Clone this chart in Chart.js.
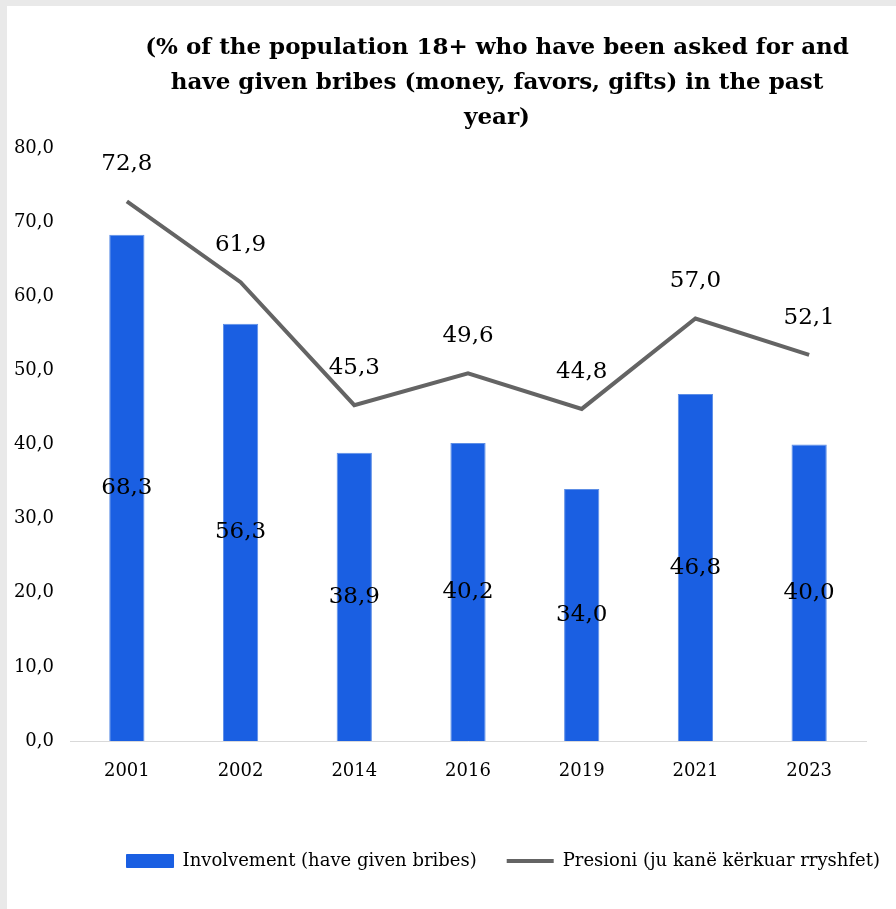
<!DOCTYPE html>
<html>
<head>
<meta charset="utf-8">
<script src="https://cdn.jsdelivr.net/npm/chart.js@4/dist/chart.umd.min.js"></script>
<style>
  body { margin: 0; background: #e9e9e9; }
  #wrap { position: absolute; left: 7px; top: 6px; width: 889px; height: 903px; background: #fff; }
  #chartBox { position: absolute; left: 0; top: 0; width: 889px; height: 903px; }
  #title {
    position: absolute; left: 100px; width: 780px; top: 22px;
    text-align: center; font: bold 23px "DejaVu Serif", serif; line-height: 35px; color: #000;
  }
</style>
</head>
<body>
<div id="wrap">
  <div id="chartBox"><canvas id="bribes"></canvas></div>
  <div id="title">(% of the population 18+ who have been asked for and<br>have given bribes (money, favors, gifts) in the past<br>year)</div>
</div>
<script>
// Data
const years = ['2001', '2002', '2014', '2016', '2019', '2021', '2023'];
const involvement = [68.3, 56.3, 38.9, 40.2, 34.0, 46.8, 40.0];
const pressure = [72.8, 61.9, 45.3, 49.6, 44.8, 57.0, 52.1];
const seriesNames = ['Involvement (have given bribes)', 'Presioni (ju kanë kërkuar rryshfet)'];

const BLUE = '#1a5fe2';
const GREY = '#646464';
const SERIF = '"DejaVu Serif", serif';

// comma decimal like the source ("72,8")
const fmt = v => v.toFixed(1).replace('.', ',');

// Draws the value labels: centred in the bars, above the line points
const valueLabels = {
  id: 'valueLabels',
  afterDatasetsDraw(chart) {
    const ctx = chart.ctx;
    ctx.save();
    ctx.font = '23px ' + SERIF;
    ctx.fillStyle = '#000';
    ctx.textAlign = 'center';
    ctx.textBaseline = 'middle';
    chart.data.datasets.forEach((ds, i) => {
      const meta = chart.getDatasetMeta(i);
      meta.data.forEach((el, j) => {
        const v = ds.data[j];
        if (ds.type === 'bar') {
          ctx.fillText(fmt(v), el.x, (el.y + el.base) / 2);
        } else {
          ctx.fillText(fmt(v), el.x, el.y - 37);
        }
      });
    });
    ctx.restore();
  }
};

// the source legend sits further right than the plot area ends
const legendShift = {
  id: 'legendShift',
  afterLayout(chart) {
    chart.legend.left += 44;
    chart.legend.right += 44;
  }
};

new Chart(document.getElementById('bribes'), {
  data: {
    labels: years,
    datasets: [
      {
        type: 'line',
        label: seriesNames[1],
        data: pressure,
        borderColor: GREY,
        backgroundColor: GREY,
        borderWidth: 4,
        pointRadius: 0,
        tension: 0,
        order: 0
      },
      {
        type: 'bar',
        label: seriesNames[0],
        data: involvement,
        backgroundColor: BLUE,
        borderColor: '#5d8ee6',
        borderWidth: 1,
        categoryPercentage: 1,
        barPercentage: 0.31,
        order: 1
      }
    ]
  },
  options: {
    responsive: true,
    maintainAspectRatio: false,
    animation: false,
    layout: { padding: { top: 142, left: 5, right: 30, bottom: 29 } },
    scales: {
      x: {
        grid: { display: false },
        border: { color: '#d9d9d9', width: 1 },
        ticks: { color: '#000', font: { family: SERIF, size: 18 }, padding: 12 },
        afterFit(scale) { scale.height = 81; }
      },
      y: {
        min: 0,
        max: 80,
        grid: { display: false },
        border: { display: false },
        ticks: {
          stepSize: 10,
          color: '#000',
          padding: 8,
          font: { family: SERIF, size: 18 },
          callback: v => fmt(v)
        },
        afterFit(scale) { scale.width = 58; }
      }
    },
    plugins: {
      title: { display: false },
      tooltip: { enabled: false },
      legend: {
        display: true,
        position: 'bottom',
        align: 'end',
        reverse: true,
        labels: {
          color: '#000',
          font: { family: SERIF, size: 18 },
          usePointStyle: true,
          pointStyleWidth: 47,
          boxHeight: 13,
          padding: 30,
          generateLabels(chart) {
            const items = Chart.defaults.plugins.legend.labels.generateLabels(chart);
            items.forEach(item => {
              const ds = chart.data.datasets[item.datasetIndex];
              if (ds.type === 'bar') {
                item.pointStyle = 'rect';
                item.fillStyle = BLUE;
                item.strokeStyle = BLUE;
                item.lineWidth = 1;
              } else {
                item.pointStyle = 'line';
                item.strokeStyle = GREY;
                item.lineWidth = 4;
              }
            });
            return items;
          }
        }
      }
    }
  },
  plugins: [valueLabels, legendShift]
});
</script>
</body>
</html>
